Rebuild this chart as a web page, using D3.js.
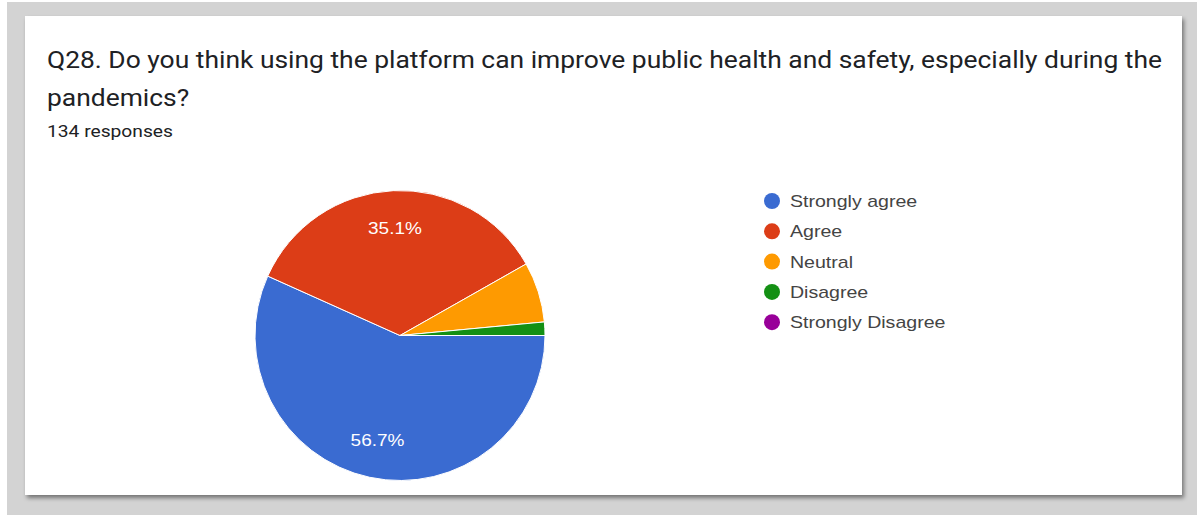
<!DOCTYPE html>
<html>
<head>
<meta charset="utf-8">
<script src="https://cdn.jsdelivr.net/npm/d3@7"></script>
<style>
  body { margin: 0; background: #fff; }
  svg { display: block; }
</style>
</head>
<body>
<script>
// chart data
let categories = ["Strongly agree", "Agree", "Neutral", "Disagree", "Strongly Disagree"];
let counts = [76, 47, 9, 2, 0];   // out of 134 responses
let colors = ["#3a6bd1", "#dc3d17", "#fe9a01", "#149014", "#980099"];
let titleLines = [
	"Q28. Do you think using the platform can improve public health and safety, especially during the",
	"pandemics?"
];
let subtitle = "134 responses";

let width = 1197, height = 515;

let svg = d3.select("body").append("svg")
	.attr("width", width)
	.attr("height", height);

// the screenshot is a bit wider than tall, so widen the text to match
function stretch(sel, factor) {
	sel.each(function() {
		let w = this.getComputedTextLength();
		d3.select(this)
			.attr("textLength", w * factor)
			.attr("lengthAdjust", "spacingAndGlyphs");
	});
}

// shadow for the card
let defs = svg.append("defs");
let filter = defs.append("filter")
	.attr("id", "shadow")
	.attr("x", "-5%").attr("y", "-5%")
	.attr("width", "110%").attr("height", "110%");
filter.append("feDropShadow")
	.attr("dx", 2).attr("dy", 3)
	.attr("stdDeviation", 2)
	.attr("flood-color", "#000")
	.attr("flood-opacity", 0.45);

// grey page around the card
svg.append("rect")
	.attr("x", 7).attr("y", 2)
	.attr("width", width - 7).attr("height", height - 2)
	.attr("fill", "#d3d3d3");

// the card
svg.append("rect")
	.attr("x", 25).attr("y", 16)
	.attr("width", 1157).attr("height", 479)
	.attr("fill", "#fff")
	.attr("filter", "url(#shadow)");

// title
let title = svg.selectAll(".title")
		.data(titleLines)
	.enter().append("text")
		.attr("class", "title")
		.attr("x", 47)
		.attr("y", function(d, i) { return 68 + i * 38; })
		.attr("font-family", "Roboto, sans-serif")
		.attr("font-size", 23.5)
		.attr("fill", "#202124")
		.text(function(d) { return d; });

// first line spans 47..1162 in the reference
let firstW = title.node().getComputedTextLength();
stretch(title, 1115 / firstW);

let sub = svg.append("text")
	.attr("x", 47).attr("y", 137)
	.attr("font-family", "Roboto, sans-serif")
	.attr("font-size", 17)
	.attr("fill", "#202124")
	.text(subtitle);
stretch(sub, 1.13);

// pie
let total = d3.sum(counts);
let radius = 145;
let pie = d3.pie()
	.sort(null)
	.startAngle(Math.PI / 2)
	.endAngle(Math.PI / 2 + 2 * Math.PI)
	.value(function(d) { return d; });

let arc = d3.arc().innerRadius(0).outerRadius(radius);
let labelArc = d3.arc().innerRadius(radius * 0.74).outerRadius(radius * 0.74);

let g = svg.append("g")
	.attr("transform", "translate(400,335.5)");

let arcs = pie(counts);

g.selectAll("path")
		.data(arcs)
	.enter().append("path")
		.attr("d", arc)
		.attr("fill", function(d, i) { return colors[i]; })
		.attr("stroke", "#fff")
		.attr("stroke-width", function(d) { return d.value > 0 ? 1 : 0; });

// percentage labels only on big slices
let pct = g.selectAll(".pct")
		.data(arcs.filter(function(d) { return d.value / total > 0.1; }))
	.enter().append("text")
		.attr("class", "pct")
		.attr("transform", function(d) { return "translate(" + labelArc.centroid(d) + ")"; })
		.attr("dy", "0.35em")
		.attr("text-anchor", "middle")
		.attr("font-family", "Arial, 'Liberation Sans', sans-serif")
		.attr("font-size", 16.5)
		.attr("fill", "#fff")
		.text(function(d) { return (d.value / total * 100).toFixed(1) + "%"; });
stretch(pct, 1.15);

// legend
let legend = svg.append("g")
	.attr("transform", "translate(772,201)");

let items = legend.selectAll(".item")
		.data(categories)
	.enter().append("g")
		.attr("class", "item")
		.attr("transform", function(d, i) { return "translate(0," + (i * 30.3) + ")"; });

items.append("circle")
	.attr("r", 8)
	.attr("fill", function(d, i) { return colors[i]; });

let legendText = items.append("text")
	.attr("x", 18)
	.attr("dy", "0.35em")
	.attr("font-family", "Arial, 'Liberation Sans', sans-serif")
	.attr("font-size", 17)
	.attr("fill", "#444")
	.text(function(d) { return d; });
stretch(legendText, 1.15);
</script>
</body>
</html>
